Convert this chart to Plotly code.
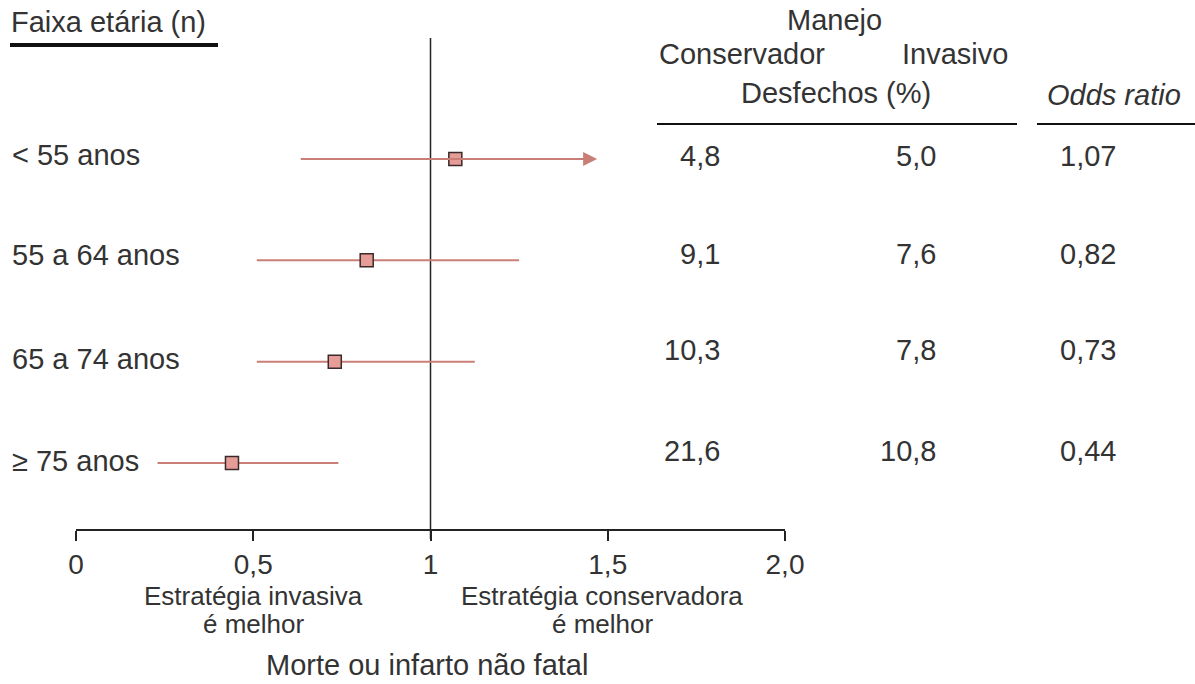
import plotly.graph_objects as go

# Forest plot data: age groups, odds ratios, confidence limits and event rates
age_groups = ["< 55 anos", "55 a 64 anos", "65 a 74 anos", "≥ 75 anos"]
odds_ratio = [1.07, 0.82, 0.73, 0.44]
ci_low = [0.63, 0.51, 0.51, 0.23]
ci_high = [1.47, 1.25, 1.125, 0.74]
ci_truncated = [True, False, False, False]
conservador = ["4,8", "9,1", "10,3", "21,6"]
invasivo = ["5,0", "7,6", "7,8", "10,8"]
or_labels = ["1,07", "0,82", "0,73", "0,44"]
tick_vals = [0, 0.5, 1, 1.5, 2.0]
tick_text = ["0", "0,5", "1", "1,5", "2,0"]

W, H = 1195, 684
ML, MR, MT, MB = 76, 410, 0, 155
PW, PH = W - ML - MR, H - MT - MB

FONT = "Liberation Sans, Arial, sans-serif"
TXT = "#333333"
FS = 29
FS_AXIS = 28
FS_FOOT = 26
CI_COLOR = "#c97f78"
SQ_FILL = "#e69d97"
SQ_EDGE = "#3a2a2a"


def px(x):
    return (x - ML) / PW


def py(y):
    return 1 - (y - MT) / PH


fig = go.Figure()

# Confidence-interval whiskers (the truncated one gets an arrow instead)
for g, lo, hi, trunc in zip(age_groups, ci_low, ci_high, ci_truncated):
    if trunc:
        fig.add_annotation(x=hi, y=g, ax=lo, ay=g, xref="x", yref="y",
                           axref="x", ayref="y", text="", showarrow=True,
                           arrowhead=2, arrowsize=1.4, arrowwidth=2,
                           arrowcolor=CI_COLOR, standoff=0)
    else:
        fig.add_trace(go.Scatter(x=[lo, hi], y=[g, g], mode="lines",
                                 line=dict(color=CI_COLOR, width=2),
                                 hoverinfo="skip", showlegend=False))

# Line of no effect
fig.add_shape(type="line", xref="x", yref="paper", x0=1, x1=1,
              y0=py(539), y1=py(38), line=dict(color="#222222", width=1.5),
              layer="below")

# Point estimates
fig.add_trace(go.Scatter(x=odds_ratio, y=age_groups, mode="markers",
                         marker=dict(symbol="square", size=13, color=SQ_FILL,
                                     line=dict(color=SQ_EDGE, width=1.5)),
                         showlegend=False))

# Row labels and table columns
label_shift = [4, 5, 3, 2]
table_shift = [3, 6, 12, 12]
for i, g in enumerate(age_groups):
    fig.add_annotation(x=px(10), y=g, xref="paper", yref="y", text=g,
                       showarrow=False, xanchor="left", yshift=label_shift[i])
    fig.add_annotation(x=px(722), y=g, xref="paper", yref="y",
                       text=conservador[i], showarrow=False, yshift=table_shift[i])
    fig.add_annotation(x=px(938), y=g, xref="paper", yref="y",
                       text=invasivo[i], showarrow=False, yshift=table_shift[i])
    fig.add_annotation(x=px(1118), y=g, xref="paper", yref="y",
                       text=or_labels[i], showarrow=False, yshift=table_shift[i])

# Header texts
headers = [
    ("Faixa etária (n)", 9, 22, "left"),
    ("Manejo", 835, 20, "center"),
    ("Conservador", 742, 54, "center"),
    ("Invasivo", 955, 54, "center"),
    ("Desfechos (%)", 836, 93, "center"),
    ("<i>Odds ratio</i>", 1114, 95, "center"),
]
for text, x, y, xa in headers:
    fig.add_annotation(x=px(x), y=py(y), xref="paper", yref="paper", text=text,
                       showarrow=False, xanchor=xa, yanchor="middle")

# Footer texts below the axis
footers = [
    ("Estratégia invasiva", 253, 596, FS_FOOT),
    ("é melhor", 253, 624, FS_FOOT),
    ("Estratégia conservadora", 602, 596, FS_FOOT),
    ("é melhor", 602, 624, FS_FOOT),
    ("Morte ou infarto não fatal", 427, 665, FS),
]
for text, x, y, size in footers:
    fig.add_annotation(x=px(x), y=py(y), xref="paper", yref="paper", text=text,
                       showarrow=False, xanchor="center", yanchor="middle",
                       borderpad=0, font=dict(size=size))

# Header rules
for x0, x1, y, w in [(10, 218, 45, 4), (657, 1017, 124, 2), (1037, 1195, 124, 2)]:
    fig.add_shape(type="line", xref="paper", yref="paper", x0=px(x0), x1=px(x1),
                  y0=py(y), y1=py(y), line=dict(color="#111111", width=w))

fig.update_layout(
    width=W, height=H,
    margin=dict(l=ML, r=MR, t=MT, b=MB),
    paper_bgcolor="white", plot_bgcolor="white",
    font=dict(family=FONT, size=FS, color=TXT),
    showlegend=False,
    xaxis=dict(range=[0, 2], tickmode="array", tickvals=tick_vals,
               ticktext=tick_text, ticks="outside", ticklen=10, tickwidth=1.5,
               tickcolor="#222222", showline=True, linecolor="#222222",
               linewidth=1.5, showgrid=False, zeroline=False,
               ticklabelstandoff=0, tickfont=dict(size=FS_AXIS, color=TXT)),
    yaxis=dict(type="category", categoryorder="array", categoryarray=age_groups,
               range=[3.651, -1.569], visible=False, showgrid=False),
)

fig.write_html("out.html")
